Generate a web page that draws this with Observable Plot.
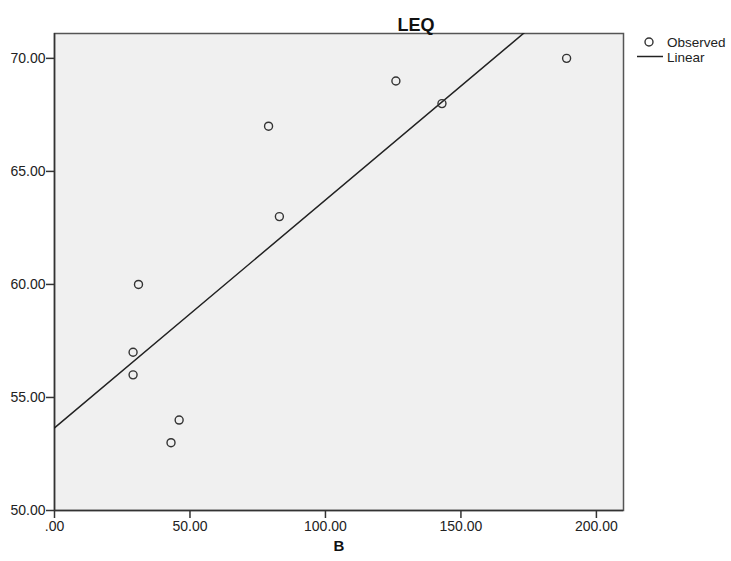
<!DOCTYPE html>
<html>
<head>
<meta charset="utf-8">
<script src="https://cdn.jsdelivr.net/npm/d3@7"></script>
<script src="https://cdn.jsdelivr.net/npm/@observablehq/plot@0.6"></script>
<style>
  html, body { margin: 0; padding: 0; background: #fff; }
  #chart { width: 731px; height: 561px; }
  svg { font-family: "Liberation Sans", Arial, sans-serif; }
</style>
</head>
<body>
<div id="chart"></div>
<script>
// Data
const B   = [29, 29, 31, 43, 46, 79, 83, 126, 143, 189];
const LEQ = [57, 56, 60, 53, 54, 67, 63, 69, 68, 70];
const xTicks = [0, 50, 100, 150, 200];
const yTicks = [50, 55, 60, 65, 70];
const legendLabels = ["Observed", "Linear"];

const data = B.map((b, i) => ({B: b, LEQ: LEQ[i]}));

// Least-squares linear fit computed from data
const mx = d3.mean(B), my = d3.mean(LEQ);
const sxy = d3.sum(data, d => (d.B - mx) * (d.LEQ - my));
const sxx = d3.sum(data, d => (d.B - mx) ** 2);
const slope = sxy / sxx;
const intercept = my - slope * mx;
const xDomain = [0, 210];
const fit = xDomain.map(x => ({B: x, LEQ: intercept + slope * x}));

const fmt = d => d === 0 ? ".00" : d.toFixed(2);

const chart = Plot.plot({
  width: 731,
  height: 561,
  marginLeft: 54,
  marginRight: 108,
  marginTop: 33,
  marginBottom: 51,
  style: {fontFamily: "'Liberation Sans', Arial, sans-serif", fontSize: "14px", color: "#222", background: "#fff"},
  x: {domain: xDomain, ticks: xTicks, tickFormat: fmt},
  y: {domain: [50, 71.1], ticks: yTicks, tickFormat: fmt},
  marks: [
    Plot.frame({fill: "#f0f0f0", stroke: "#555", strokeWidth: 1.5}),
    Plot.axisX({ticks: xTicks, tickFormat: fmt, tickSize: 8, tickPadding: 3, label: null, stroke: "#333", strokeWidth: 1.5, fill: "#222", fontSize: 14}),
    Plot.axisY({ticks: yTicks, tickFormat: fmt, tickSize: 8, tickPadding: 1, label: null, stroke: "#333", strokeWidth: 1.5, fill: "#222", fontSize: 14}),
    Plot.ruleX([0], {stroke: "#333", strokeWidth: 1.5}),
    Plot.ruleY([50], {stroke: "#333", strokeWidth: 1.5}),
    Plot.line(fit, {x: "B", y: "LEQ", stroke: "#222", strokeWidth: 1.5, clip: true}),
    Plot.dot(data, {x: "B", y: "LEQ", r: 4, stroke: "#333", strokeWidth: 1.4, fill: "none"}),
    Plot.text(["B"], {frameAnchor: "bottom", dy: 40, text: d => d, fontWeight: "bold", fontSize: 15, fill: "#111"}),
    Plot.text(["LEQ"], {frameAnchor: "top", dx: 77, dy: -15, text: d => d, fontWeight: "bold", fontSize: 18, fill: "#111"})
  ]
});

// Legend (outside the plot area, to the right)
const svg = d3.select(chart);
const lg = svg.append("g")
  .attr("font-family", "'Liberation Sans', Arial, sans-serif")
  .attr("font-size", 13.5)
  .attr("text-anchor", "start")
  .attr("fill", "#222");
lg.append("circle").attr("cx", 649).attr("cy", 42).attr("r", 4).attr("fill", "none").attr("stroke", "#333").attr("stroke-width", 1.4);
lg.append("text").attr("x", 667).attr("y", 42).attr("dy", "0.35em").attr("text-anchor", "start").text(legendLabels[0]);
lg.append("line").attr("x1", 637).attr("x2", 663).attr("y1", 56.5).attr("y2", 56.5).attr("stroke", "#222").attr("stroke-width", 1.5);
lg.append("text").attr("x", 667).attr("y", 57).attr("dy", "0.35em").attr("text-anchor", "start").text(legendLabels[1]);

document.getElementById("chart").appendChild(chart);
</script>
</body>
</html>
